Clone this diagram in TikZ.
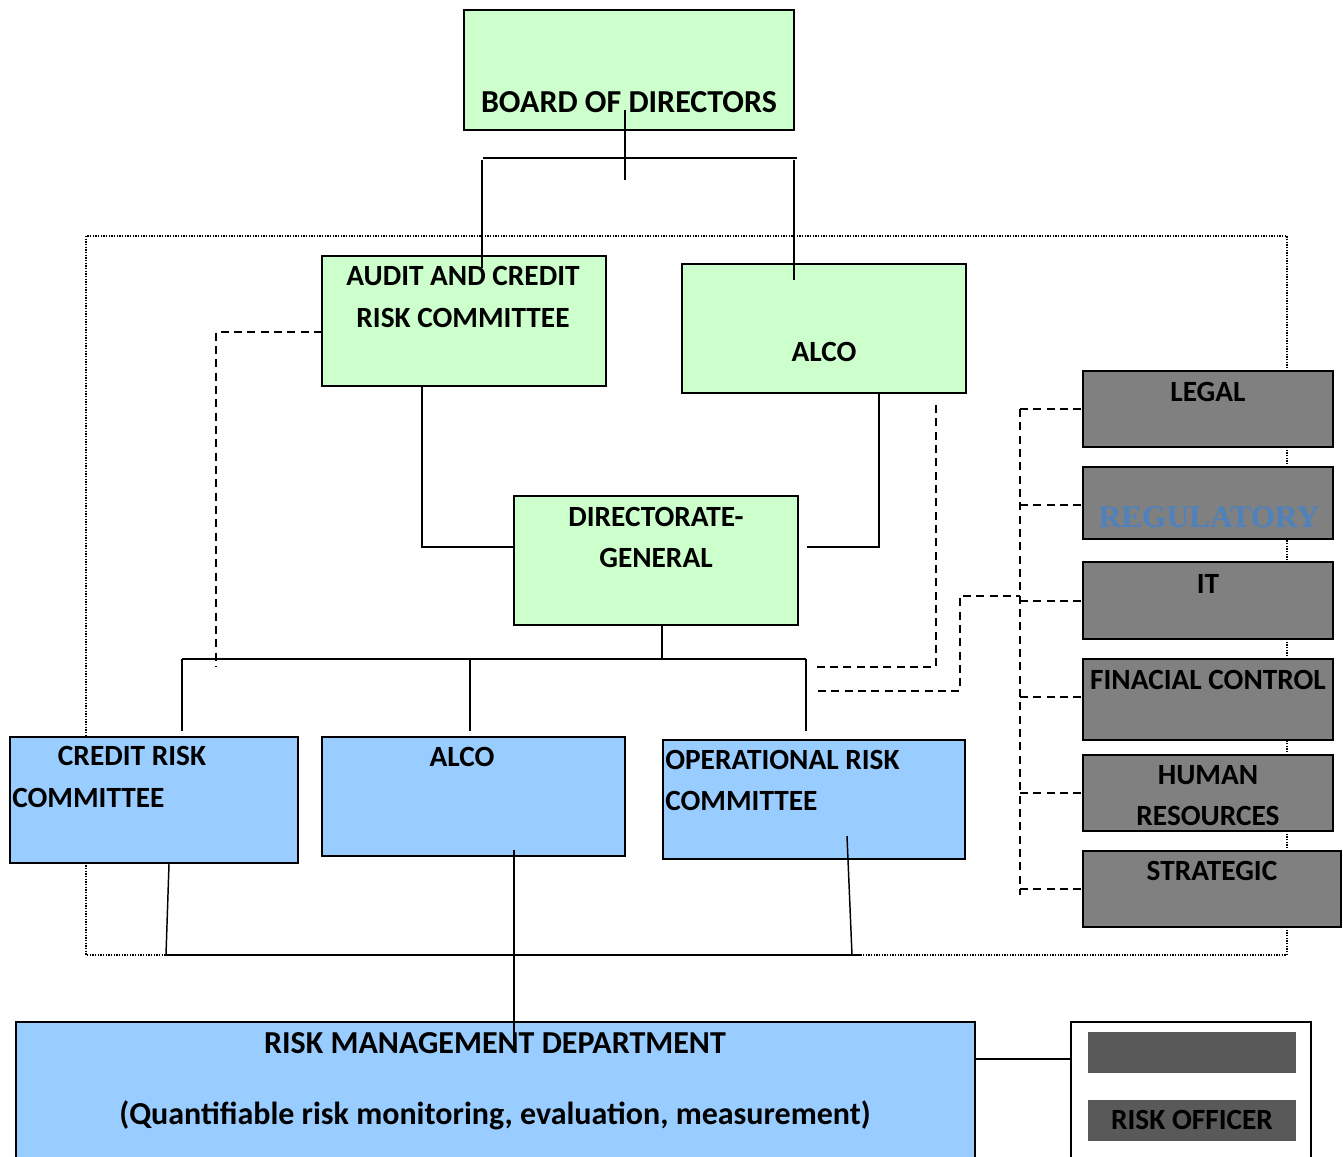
\documentclass[tikz,border=0pt]{standalone}
\usepackage{fontspec}
\setmainfont{Carlito}
\newfontfamily\regfont{Liberation Serif}
\usetikzlibrary{fit}

\definecolor{boardgreen}{HTML}{CCFFCC}
\definecolor{unitblue}{HTML}{99CCFF}
\definecolor{supportgray}{HTML}{808080}
\definecolor{officergray}{HTML}{595959}
\definecolor{regblue}{HTML}{4F81BD}

\tikzset{
  box/.style={draw=black, line width=1.8pt, inner sep=0pt, outer sep=0pt},
  greenbox/.style={box, fill=boardgreen},
  bluebox/.style={box, fill=unitblue},
  graybox/.style={box, fill=supportgray},
  officerbar/.style={draw=none, fill=officergray, inner sep=0pt, outer sep=0pt},
  label/.style={font=\fontsize{22}{26}\selectfont\bfseries, inner sep=0pt, anchor=base},
  biglabel/.style={label, font=\fontsize{24}{28}\selectfont\bfseries},
  leftlabel/.style={label, anchor=base west},
  link/.style={draw=black, line width=1.1pt},
  dashlink/.style={draw=black, line width=1.1pt, dash pattern=on 6pt off 4pt},
  frame/.style={draw=black, line width=1pt, dash pattern=on 1pt off 1pt}
}

\begin{document}
\begin{tikzpicture}[x=0.75pt, y=-0.75pt]
\useasboundingbox (0,0) rectangle (1343,1157);

% dotted frame round the committees
\draw[frame] (86,236) rectangle (1287,955);

% boxes
\node[greenbox, fit={(464,10) (794,130)}] (board) {};
\node[greenbox, fit={(322,256) (606,386)}] (audit) {};
\node[greenbox, fit={(682,264) (966,393)}] (alcotop) {};
\node[greenbox, fit={(514,496) (798,625)}] (dg) {};
\node[bluebox, fit={(10,737) (298,863)}] (credit) {};
\node[bluebox, fit={(322,737) (625,856)}] (alcomid) {};
\node[bluebox, fit={(663,740) (965,859)}] (oprisk) {};
\node[bluebox, fit={(16,1022) (975,1160)}] (rmd) {};

\node[graybox, fit={(1083,371) (1333,447)}] (legal) {};
\node[graybox, fit={(1083,467) (1333,539)}] (regulatory) {};
\node[graybox, fit={(1083,562) (1333,639)}] (it) {};
\node[graybox, fit={(1083,659) (1333,740)}] (fincontrol) {};
\node[graybox, fit={(1083,755) (1333,831)}] (hr) {};
\node[graybox, fit={(1083,851) (1341,927)}] (strategic) {};

\node[draw=black, line width=1.1pt, fill=white, inner sep=0pt, fit={(1071,1022) (1311,1165)}] (officerpanel) {};
\node[officerbar, fit={(1088,1032) (1296,1073)}] (officerbar1) {};
\node[officerbar, fit={(1088,1100) (1296,1141)}] (officerbar2) {};

% texts
\node[biglabel] (board-t) at (629,112) {BOARD OF DIRECTORS};
\node[label] (audit-t1) at (463,285) {AUDIT AND CREDIT};
\node[label] (audit-t2) at (463,327) {RISK COMMITTEE};
\node[label] (alcotop-t) at (824,361) {ALCO};
\node[label] (dg-t1) at (656,526) {DIRECTORATE-};
\node[label] (dg-t2) at (656,567) {GENERAL};
\node[label] (credit-t1) at (132,765) {CREDIT RISK};
\node[leftlabel] (credit-t2) at (12,807) {COMMITTEE};
\node[label] (alcomid-t) at (462,766) {ALCO};
\node[leftlabel] (oprisk-t1) at (665,769) {OPERATIONAL RISK};
\node[leftlabel] (oprisk-t2) at (665,810) {COMMITTEE};
\node[biglabel] (rmd-t1) at (495,1053) {RISK MANAGEMENT DEPARTMENT};
\node[biglabel] (rmd-t2) at (495,1124) {(Quantifiable risk monitoring, evaluation, measurement)};
\node[label] (legal-t) at (1208,401) {LEGAL};
\node[label, font=\fontsize{23.5}{28}\selectfont\regfont\bfseries, text=regblue] (regulatory-t) at (1209,527) {REGULATORY};
\node[label] (it-t) at (1208,593) {IT};
\node[label] (fincontrol-t) at (1208,689) {FINACIAL CONTROL};
\node[label] (hr-t1) at (1208,784) {HUMAN};
\node[label] (hr-t2) at (1208,825) {RESOURCES};
\node[label] (strategic-t) at (1212,880) {STRATEGIC};
\node[label] (officer-t) at (1192,1129) {RISK OFFICER};

% connector points
\coordinate (boardstem-top) at (625,110);
\coordinate (boardstem-bot) at (625,180);
\coordinate (topbar-l) at (483,158);
\coordinate (topbar-r) at (797,158);
\coordinate (audit-in) at (482,268);
\coordinate (alcotop-in) at (794,280);
\coordinate (dgbar-l) at (182,659);
\coordinate (dgbar-r) at (806,659);
\coordinate (credit-in) at (182,731);
\coordinate (alcomid-in) at (470,731);
\coordinate (oprisk-in) at (806,731);
\coordinate (credit-out) at (169,864);
\coordinate (oprisk-out) at (847,836);
\coordinate (lowbar-l) at (166,955);
\coordinate (lowbar-r) at (860,955);
\coordinate (alcomid-out) at (514,850);
\coordinate (rmd-in) at (514,1040);
\coordinate (auditdash-end) at (216,667);
\coordinate (alcodash-top) at (936,405);
\coordinate (alcodash-end) at (816,667);
\coordinate (itdash-end) at (818,691);
\coordinate (spine-top) at (1020,409);
\coordinate (spine-bot) at (1020,895);

% board to the two committees
\draw[link] (boardstem-top) -- (boardstem-bot);
\draw[link] (topbar-l) -- (topbar-r);
\draw[link] (482,160) -- (audit-in);
\draw[link] (794,160) -- (alcotop-in);

% committees to the directorate-general
\draw[link] (audit.south -| 422,0) |- (dg.west |- 0,547);
\draw[link] (alcotop.south -| 879,0) |- (807,547);

% directorate-general to the three committees below
\draw[link] (dg.south -| 662,0) -- (662,659);
\draw[link] (dgbar-l) -- (dgbar-r);
\draw[link] (182,659) -- (credit-in);
\draw[link] (470,659) -- (alcomid-in);
\draw[link] (806,659) -- (oprisk-in);

% committees to the risk management department
\draw[link] (credit-out) -- (lowbar-l);
\draw[link] (oprisk-out) -- (852,955);
\draw[link] (lowbar-l) -- (lowbar-r);
\draw[link] (alcomid-out) -- (rmd-in);
\draw[link] (rmd.east |- 0,1059) -- (officerpanel.west |- 0,1059);

% dashed reporting lines
\draw[dashlink] (audit.west |- 0,332) -| (auditdash-end);
\draw[dashlink] (alcodash-top) |- (alcodash-end);
\draw[dashlink] (itdash-end) -| (960,596) -- (1020,596);
\draw[dashlink] (spine-top) -- (spine-bot);
\draw[dashlink] (spine-top) -- (legal.west |- 0,409);
\draw[dashlink] (1020,505) -- (regulatory.west |- 0,505);
\draw[dashlink] (1020,601) -- (it.west |- 0,601);
\draw[dashlink] (1020,697) -- (fincontrol.west |- 0,697);
\draw[dashlink] (1020,793) -- (hr.west |- 0,793);
\draw[dashlink] (1020,889) -- (strategic.west |- 0,889);
\end{tikzpicture}
\end{document}
